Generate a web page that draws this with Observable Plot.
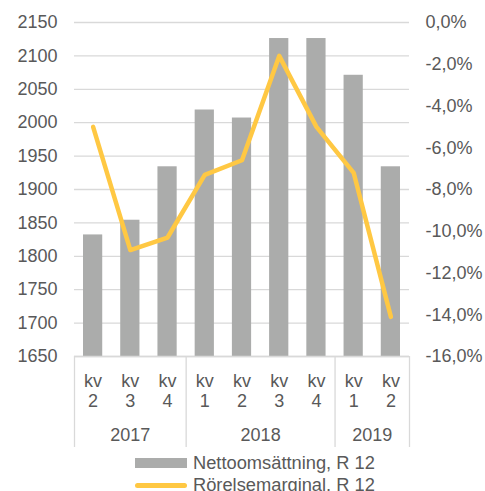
<!DOCTYPE html>
<html>
<head>
<meta charset="utf-8">
<script src="https://cdn.jsdelivr.net/npm/d3@7"></script>
<script src="https://cdn.jsdelivr.net/npm/@observablehq/plot@0.6"></script>
<style>
  html, body { margin: 0; padding: 0; background: #fff; }
  body { width: 485px; height: 491px; overflow: hidden; font-family: "Liberation Sans", Arial, sans-serif; color: #595959; }
  #chart svg { display: block; }
  .legend { padding-left: 135px; font-size: 18.3px; line-height: 22px; }
  .row { display: flex; align-items: center; height: 22px; }
  .sw { width: 52px; margin-right: 6px; flex: none; }
  .sw.bar { height: 10px; background: #ABACAB; }
  .sw.line { height: 5px; border-radius: 3px; background: #FFC843; }
</style>
</head>
<body>
<div id="chart"></div>
<div class="legend">
  <div class="row"><span class="sw bar"></span><span>Nettoomsättning, R 12</span></div>
  <div class="row"><span class="sw line"></span><span>Rörelsemarginal, R 12</span></div>
</div>
<script>
const quarters = ["kv\n2", "kv\n3", "kv\n4", "kv\n1", "kv\n2", "kv\n3", "kv\n4", "kv\n1", "kv\n2"];
const years = ["2017", "2017", "2017", "2018", "2018", "2018", "2018", "2019", "2019"];
const netSales = [1832, 1854, 1934, 2019, 2007, 2126, 2126, 2071, 1934];
const opMargin = [-5.0, -10.9, -10.3, -7.3, -6.6, -1.6, -5.0, -7.2, -14.1];
const leftTicks = [1650, 1700, 1750, 1800, 1850, 1900, 1950, 2000, 2050, 2100, 2150];
const rightTicks = [0, -2, -4, -6, -8, -10, -12, -14, -16];

const yMin = 1650, yMax = 2150, pMin = -16, pMax = 0;
const toLeft = p => yMin + (p - pMin) / (pMax - pMin) * (yMax - yMin);
const fromLeft = v => pMin + (v - yMin) / (yMax - yMin) * (pMax - pMin);

const rows = quarters.map((q, i) => ({i, q, year: years[i], sales: netSales[i], margin: opMargin[i]}));
const groups = [];
years.forEach((y, i) => {
  const g = groups[groups.length - 1];
  if (g && g.year === y) g.end = i + 1; else groups.push({year: y, start: i, end: i + 1});
});
const bounds = [0, ...groups.map(g => g.end)];

const textColor = "#595959";
const font = "Liberation Sans, Arial, sans-serif";

const chart = Plot.plot({
  width: 485,
  height: 452,
  marginLeft: 74,
  marginRight: 76,
  marginTop: 22,
  marginBottom: 96,
  style: {fontFamily: font, fontSize: "18px", color: textColor, background: "#fff"},
  x: {domain: [0, quarters.length], axis: null},
  y: {domain: [yMin, yMax]},
  marks: [
    Plot.gridY(leftTicks, {stroke: "#D9D9D9", strokeOpacity: 1, strokeWidth: 1.3}),
    Plot.rectY(rows, {x1: "i", x2: d => d.i + 1, y1: yMin, y2: "sales", insetLeft: 9, insetRight: 9, fill: "#ABACAB"}),
    Plot.ruleY([yMin], {stroke: "#D9D9D9", strokeWidth: 1.3}),
    Plot.ruleX(bounds, {y1: yMin, y2: yMin, insetBottom: -91, stroke: "#D9D9D9", strokeWidth: 1.3}),
    Plot.line(rows, {x: d => d.i + 0.5, y: d => toLeft(d.margin), stroke: "#FFC843", strokeWidth: 4.5, strokeLinejoin: "round", strokeLinecap: "round"}),
    Plot.axisY(leftTicks, {anchor: "left", tickSize: 0, tickPadding: 17, fontSize: 18, label: null, fill: textColor, tickFormat: d => String(d)}),
    Plot.axisY(rightTicks.map(toLeft), {anchor: "right", tickSize: 0, tickPadding: 16, fontSize: 18, label: null, fill: textColor,
      tickFormat: v => { const p = Math.round(fromLeft(v) * 10) / 10; return (p === 0 ? 0 : p).toFixed(1).replace(".", ",") + "%"; }}),
    Plot.text(rows, {x: d => d.i + 0.5, y: yMin, text: "q", dy: 34, lineAnchor: "middle", lineHeight: 1.12, fontSize: 18, fill: textColor}),
    Plot.text(groups, {x: d => (d.start + d.end) / 2, y: yMin, text: "year", dy: 79, lineAnchor: "middle", fontSize: 18, fill: textColor})
  ]
});
document.getElementById("chart").appendChild(chart);
</script>
</body>
</html>
